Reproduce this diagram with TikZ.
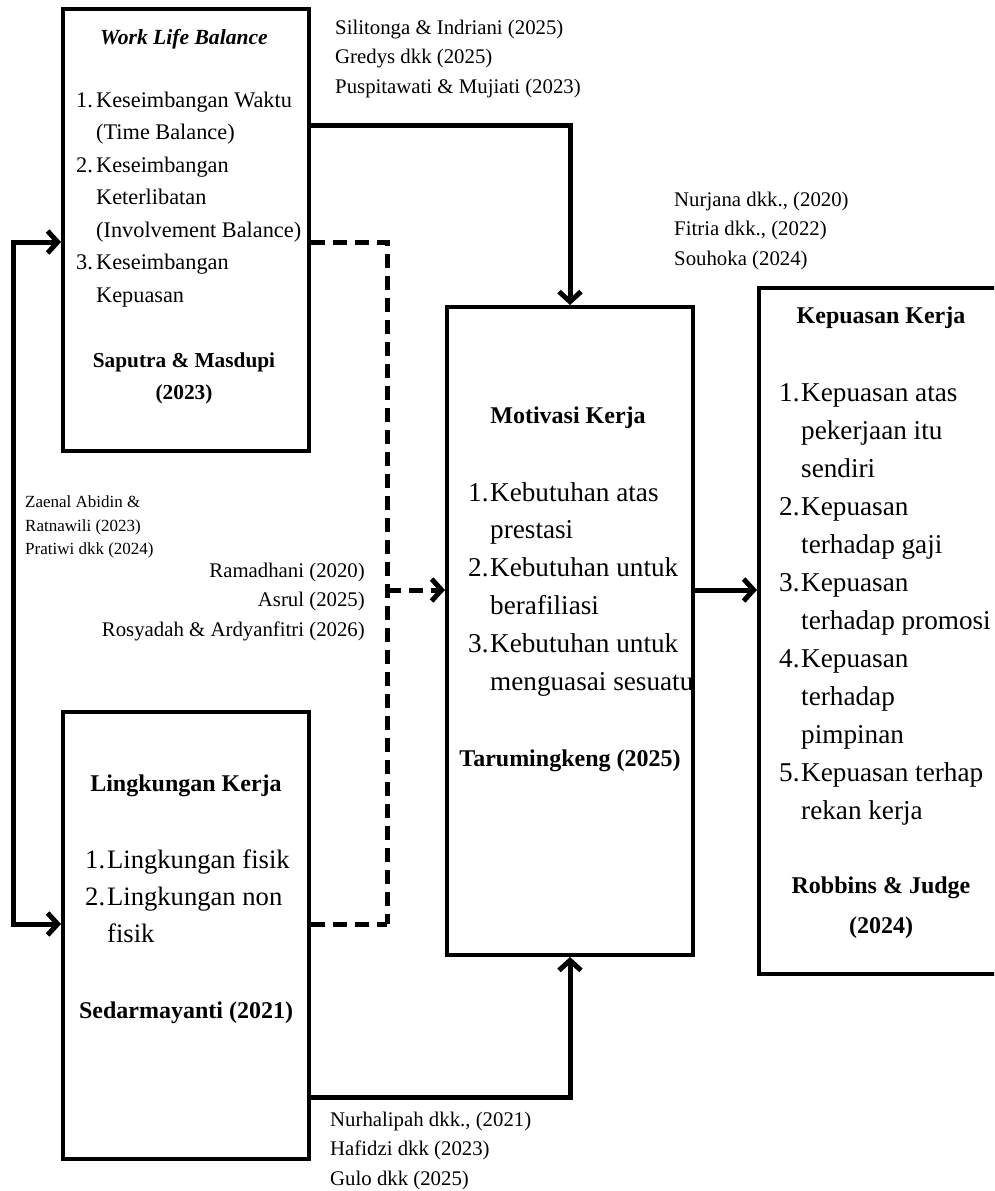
\documentclass[tikz,border=0pt]{standalone}
\usepackage{fontspec}
\setmainfont{Liberation Serif}
\usetikzlibrary{arrows.meta,calc}
\begin{document}
\begin{tikzpicture}[x=1pt,y=-1pt,
  box/.style={draw, line width=4pt, inner sep=0pt, anchor=north west},
  conn/.style={line width=5pt},
  dconn/.style={line width=5pt, dash pattern=on 14pt off 8pt},
  tip/.style={-{Straight Barb[length=10pt,width=22pt]}},
  bitip/.style={{Straight Barb[length=10pt,width=22pt]}-{Straight Barb[length=10pt,width=22pt]}},
  txt/.style={inner sep=0pt},
  cite/.style={txt, font=\fontsize{20.8}{29.3}\selectfont},
  smallcite/.style={txt, font=\fontsize{17}{23.5}\selectfont},
  headA/.style={txt, anchor=base, font=\fontsize{21.3}{32}\selectfont\bfseries},
  headB/.style={txt, anchor=base, font=\fontsize{24}{40}\selectfont\bfseries},
  itemA/.style={txt, anchor=base west, font=\fontsize{22.3}{32.5}\selectfont},
  itemB/.style={txt, anchor=base west, font=\fontsize{27.2}{37.8}\selectfont},
]
\path[use as bounding box] (0,0) rectangle (994,1191);
\clip (0,0) rectangle (994,1191);

% boxes
\node[box, minimum width=246pt, minimum height=442pt] (wlb) at (61,7) {};
\node[box, minimum width=246pt, minimum height=447pt] (lk) at (61,710) {};
\node[box, minimum width=246pt, minimum height=648pt] (mot) at (445,305) {};
\node[box, minimum width=245pt, minimum height=686pt] (kep) at (757,286) {};

% Work Life Balance box text
\node[headA, font=\fontsize{21.6}{32}\selectfont\bfseries\itshape] (wlbh) at (184,44) {Work Life Balance};
\node[itemA] (wlbi) at (76,107) {\begin{tabular}[t]{@{}p{20pt}@{}l@{}}1. & Keseimbangan Waktu\\ & (Time Balance)\\ 2. & Keseimbangan\\ & Keterlibatan\\ & (Involvement Balance)\\ 3. & Keseimbangan\\ & Kepuasan\end{tabular}};
\node[headA] (wlbs) at (184,367) {\begin{tabular}[t]{@{}c@{}}Saputra \& Masdupi\\ (2023)\end{tabular}};

% Lingkungan Kerja box text
\node[headB] (lkh) at (186,791) {Lingkungan Kerja};
\node[itemB, font=\fontsize{26.6}{37}\selectfont] (lki) at (85,868) {\begin{tabular}[t]{@{}p{22pt}@{}l@{}}1. & Lingkungan fisik\\ 2. & Lingkungan non\\ & fisik\end{tabular}};
\node[headB] (lks) at (186,1018) {Sedarmayanti (2021)};

% Motivasi Kerja box text
\node[headB] (moth) at (568,423) {Motivasi Kerja};
\node[itemB] (moti) at (468,501) {\begin{tabular}[t]{@{}p{22pt}@{}l@{}}1. & Kebutuhan atas\\ & prestasi\\ 2. & Kebutuhan untuk\\ & berafiliasi\\ 3. & Kebutuhan untuk\\ & menguasai sesuatu\end{tabular}};
\node[headB] (mots) at (570,766) {Tarumingkeng (2025)};

% Kepuasan Kerja box text
\node[headB] (keph) at (881,323) {Kepuasan Kerja};
\node[itemB, font=\fontsize{27.2}{38}\selectfont] (kepi) at (779,401) {\begin{tabular}[t]{@{}p{22pt}@{}l@{}}1. & Kepuasan atas\\ & pekerjaan itu\\ & sendiri\\ 2. & Kepuasan\\ & terhadap gaji\\ 3. & Kepuasan\\ & terhadap promosi\\ 4. & Kepuasan\\ & terhadap\\ & pimpinan\\ 5. & Kepuasan terhap\\ & rekan kerja\end{tabular}};
\node[headB] (keps) at (881,893) {\begin{tabular}[t]{@{}c@{}}Robbins \& Judge\\ (2024)\end{tabular}};

% citations
\node[cite, anchor=base west] (c1) at (335,34.5) {\begin{tabular}[t]{@{}l@{}}Silitonga \& Indriani (2025)\\ Gredys dkk (2025)\\ Puspitawati \& Mujiati (2023)\end{tabular}};
\node[cite, anchor=base west] (c2) at (674,206.5) {\begin{tabular}[t]{@{}l@{}}Nurjana dkk., (2020)\\ Fitria dkk., (2022)\\ Souhoka (2024)\end{tabular}};
\node[smallcite, anchor=base west] (c3) at (25,507.5) {\begin{tabular}[t]{@{}l@{}}Zaenal Abidin \&\\ Ratnawili (2023)\\ Pratiwi dkk (2024)\end{tabular}};
\node[cite, anchor=base east] (c4) at (365,577.5) {\begin{tabular}[t]{@{}r@{}}Ramadhani (2020)\\ Asrul (2025)\\ Rosyadah \& Ardyanfitri (2026)\end{tabular}};
\node[cite, anchor=base west] (c5) at (330,1126.5) {\begin{tabular}[t]{@{}l@{}}Nurhalipah dkk., (2021)\\ Hafidzi dkk (2023)\\ Gulo dkk (2025)\end{tabular}};

% helper coordinates
\coordinate (yT) at (0,125);
\coordinate (yA) at (0,242);
\coordinate (yB) at (0,924);
\coordinate (yC) at (0,1097);
\coordinate (dj) at (387,590);
\coordinate (lft) at (13,0);

% connectors
\draw[conn, tip] (wlb.east |- yT) -| (mot.north);
\draw[conn, tip] (lk.east |- yC) -| (mot.south);
\draw[conn, tip] (mot.east |- dj) -- (kep.west |- dj);
\draw[dconn] (wlb.east |- yA) -| (dj |- yB);
\draw[dconn] (lk.east |- yB) -- (dj |- yB);
\draw[dconn, tip] (dj) -- (mot.west |- dj);
\draw[conn, bitip] (wlb.west |- yA) -- (lft |- yA) -- (lft |- yB) -- (lk.west |- yB);
\end{tikzpicture}
\end{document}
